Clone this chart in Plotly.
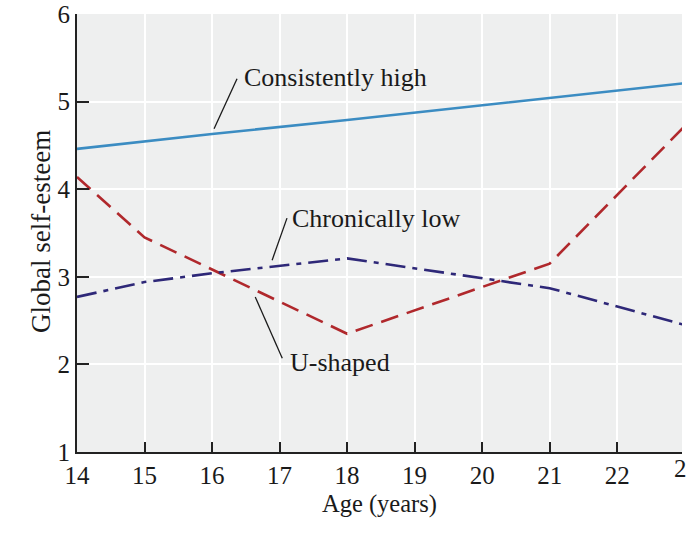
import plotly.graph_objects as go

# Data
high_age = [14, 16, 18, 21, 23]
high_val = [4.46, 4.63, 4.79, 5.04, 5.21]

u_age = [14, 15, 18, 21, 23]
u_val = [4.14, 3.45, 2.35, 3.15, 4.72]

low_age = [14, 15, 16, 18, 21, 23]
low_val = [2.77, 2.94, 3.04, 3.21, 2.87, 2.45]

x_ticks = [14, 15, 16, 17, 18, 19, 20, 21, 22]
y_ticks = [1, 2, 3, 4, 5, 6]

FONT = "Liberation Serif"

fig = go.Figure()
fig.add_trace(go.Scatter(x=high_age, y=high_val, mode="lines",
                         line=dict(color="#3b8cc2", width=2.6), showlegend=False))
fig.add_trace(go.Scatter(x=u_age, y=u_val, mode="lines",
                         line=dict(color="#b0282c", width=2.6, dash="18px,9px"), showlegend=False))
fig.add_trace(go.Scatter(x=low_age, y=low_val, mode="lines",
                         line=dict(color="#2e2878", width=2.6, dash="20px,7px,5px,7px"), showlegend=False))

# Labels with leader lines: (text, text_x, text_y, line_x0, line_y0, line_x1, line_y1)
labels = [
    ("Consistently high", 16.45, 5.27, 16.37, 5.26, 16.03, 4.69),
    ("Chronically low", 17.15, 3.66, 17.11, 3.67, 16.89, 3.19),
    ("U-shaped", 17.12, 2.02, 17.04, 2.07, 16.64, 2.77),
]
for t, tx, ty, x0, y0, x1, y1 in labels:
    fig.add_annotation(x=tx, y=ty, text=t, showarrow=False, xanchor="left",
                       yanchor="middle", font=dict(family=FONT, size=26, color="#1a1a1a"))
    fig.add_shape(type="line", x0=x0, y0=y0, x1=x1, y1=y1, xref="x", yref="y",
                  line=dict(color="#1a1a1a", width=1.3))

# clipped "23" tick label at the right edge
fig.add_annotation(x=1.0, y=0, xref="paper", yref="paper", text="2", showarrow=False,
                   xanchor="left", yanchor="top", xshift=-10, yshift=-1,
                   font=dict(family=FONT, size=25, color="#1a1a1a"))

# y-axis title
fig.add_annotation(x=0, y=0.5, xref="paper", yref="paper", text="Global self-esteem",
                   textangle=-90, showarrow=False, xanchor="center", yanchor="middle",
                   xshift=-36, yshift=1, font=dict(family=FONT, size=27, color="#1a1a1a"))

title_font = dict(family=FONT, size=24.5, color="#1a1a1a")

fig.update_layout(
    width=696, height=540,
    margin=dict(l=77, r=14, t=14, b=88),
    paper_bgcolor="white", plot_bgcolor="#eeefef",
    font=dict(family=FONT, size=25, color="#1a1a1a"),
)
fig.update_xaxes(range=[14, 22.96], tickvals=x_ticks, ticks="inside", ticklen=10,
                 tickwidth=1.5, tickcolor="#222", showline=True, linecolor="#222",
                 linewidth=2, showgrid=True, gridcolor="white", gridwidth=1.5,
                 zeroline=False,
                 title=dict(text="Age (years)", standoff=7, font=title_font),
                 tickfont=dict(family=FONT, size=25), automargin=False)
fig.update_yaxes(range=[1, 6], tickvals=y_ticks, ticks="inside", ticklen=12,
                 tickwidth=1.5, tickcolor="#222", showline=True, linecolor="#222",
                 linewidth=2, showgrid=True, gridcolor="white", gridwidth=1.5,
                 zeroline=False,
                 tickfont=dict(family=FONT, size=25), automargin=False)

fig.write_html("out.html")
